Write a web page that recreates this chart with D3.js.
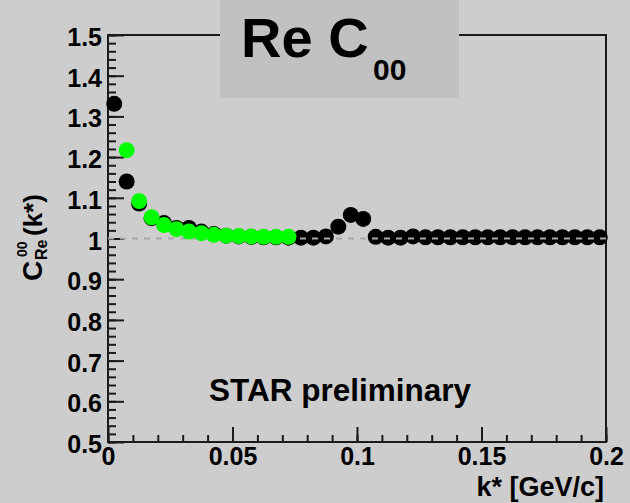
<!DOCTYPE html>
<html>
<head>
<meta charset="utf-8">
<script src="https://cdn.jsdelivr.net/npm/d3@7"></script>
<style>
  html, body { margin: 0; padding: 0; background: #cdcdcd; }
  svg { display: block; }
  text { font-family: "Liberation Sans", Arial, Helvetica, sans-serif; font-weight: bold; fill: #000; }
</style>
</head>
<body>
<svg id="chart" width="630" height="503"></svg>
<script>
// k* bin centres (GeV/c) and C00 values, black series
const kBlack = [0.0025, 0.0075, 0.0125, 0.0175, 0.0225, 0.0275, 0.0325, 0.0375, 0.0425, 0.0475,
                0.0525, 0.0575, 0.0625, 0.0675, 0.0725, 0.0775, 0.0825, 0.0875, 0.0925, 0.0975,
                0.1025, 0.1075, 0.1125, 0.1175, 0.1225, 0.1275, 0.1325, 0.1375, 0.1425, 0.1475,
                0.1525, 0.1575, 0.1625, 0.1675, 0.1725, 0.1775, 0.1825, 0.1875, 0.1925, 0.1975];
const cBlack = [1.331, 1.140, 1.086, 1.050, 1.038, 1.026, 1.026, 1.017, 1.011, 1.007,
                1.005, 1.004, 1.003, 1.003, 1.002, 1.002, 1.002, 1.005, 1.029, 1.058,
                1.048, 1.004, 1.002, 1.002, 1.005, 1.003, 1.003, 1.003, 1.003, 1.003,
                1.003, 1.003, 1.003, 1.003, 1.003, 1.003, 1.003, 1.003, 1.003, 1.003];

// green series
const kGreen = [0.0075, 0.0125, 0.0175, 0.0225, 0.0275, 0.0325, 0.0375, 0.0425, 0.0475, 0.0525,
                0.0575, 0.0625, 0.0675, 0.0725];
const cGreen = [1.217, 1.092, 1.052, 1.033, 1.023, 1.017, 1.013, 1.009, 1.007, 1.006,
                1.005, 1.004, 1.004, 1.004];

// axis ticks
const xMajorTicks = [0, 0.05, 0.1, 0.15, 0.2];
const xTickLabels = ["0", "0.05", "0.1", "0.15", "0.2"];
const yMajorTicks = [0.5, 0.6, 0.7, 0.8, 0.9, 1.0, 1.1, 1.2, 1.3, 1.4, 1.5];
const yTickLabels = ["0.5", "0.6", "0.7", "0.8", "0.9", "1", "1.1", "1.2", "1.3", "1.4", "1.5"];

const svg = d3.select("#chart");
const W = 630, H = 503;
const plot = { left: 108, right: 606, top: 35, bottom: 442 };

svg.append("rect").attr("width", W).attr("height", H).attr("fill", "#cdcdcd");

const x = d3.scaleLinear().domain([0, 0.2]).range([plot.left, plot.right]);
const y = d3.scaleLinear().domain([0.5, 1.5]).range([plot.bottom, plot.top]);

const xMinor = d3.range(0, 21).map(i => i * 0.01);
const yMinor = d3.range(0, 51).map(i => 0.5 + i * 0.02);

// frame
svg.append("rect")
  .attr("x", plot.left).attr("y", plot.top)
  .attr("width", plot.right - plot.left).attr("height", plot.bottom - plot.top)
  .attr("fill", "none").attr("stroke", "#1a1a1a").attr("stroke-width", 2);

// minor ticks
svg.append("g").attr("transform", `translate(0,${plot.bottom})`)
  .call(d3.axisBottom(x).tickValues(xMinor).tickSize(-7).tickFormat(""))
  .call(g => g.select(".domain").remove())
  .selectAll("line").attr("stroke", "#1a1a1a").attr("stroke-width", 2);
svg.append("g").attr("transform", `translate(${plot.left},0)`)
  .call(d3.axisLeft(y).tickValues(yMinor).tickSize(-8).tickFormat(""))
  .call(g => g.select(".domain").remove())
  .selectAll("line").attr("stroke", "#1a1a1a").attr("stroke-width", 2);

// major ticks with labels
const xAxis = svg.append("g").attr("transform", `translate(0,${plot.bottom})`)
  .call(d3.axisBottom(x).tickValues(xMajorTicks).tickSize(-15).tickPadding(5)
        .tickFormat((d, i) => xTickLabels[i]));
xAxis.select(".domain").remove();
xAxis.selectAll("line").attr("stroke", "#1a1a1a").attr("stroke-width", 2);
xAxis.selectAll("text").attr("font-size", 25).attr("fill", "#111")
  .style("font-family", '"Liberation Sans", Arial, sans-serif').style("font-weight", "bold");

const yAxis = svg.append("g").attr("transform", `translate(${plot.left},0)`)
  .call(d3.axisLeft(y).tickValues(yMajorTicks).tickSize(-16).tickPadding(6)
        .tickFormat((d, i) => yTickLabels[i]));
yAxis.select(".domain").remove();
yAxis.selectAll("line").attr("stroke", "#1a1a1a").attr("stroke-width", 2);
yAxis.selectAll("text").attr("font-size", 25).attr("fill", "#111").attr("dy", "0.42em")
  .style("font-family", '"Liberation Sans", Arial, sans-serif').style("font-weight", "bold");

// black series
const black = kBlack.map((k, i) => ({ k, c: cBlack[i] }));
const green = kGreen.map((k, i) => ({ k, c: cGreen[i] }));

svg.append("g").selectAll("circle").data(black).join("circle")
  .attr("cx", d => x(d.k)).attr("cy", d => y(d.c)).attr("r", 8)
  .attr("fill", "#000");

// reference line at C = 1
svg.append("line")
  .attr("x1", x(0)).attr("x2", x(0.2)).attr("y1", y(1)).attr("y2", y(1))
  .attr("stroke", "#a8a8a8").attr("stroke-width", 2).attr("stroke-dasharray", "6,6");

// green series
svg.append("g").selectAll("circle").data(green).join("circle")
  .attr("cx", d => x(d.k)).attr("cy", d => y(d.c)).attr("r", 8)
  .attr("fill", "#00ff00");

// title box
svg.append("rect").attr("x", 220).attr("y", 0).attr("width", 239).attr("height", 98)
  .attr("fill", "#c1c1c1");
const title = svg.append("text").attr("x", 241).attr("y", 57).attr("font-size", 56);
title.append("tspan").text("Re C");
title.append("tspan").attr("x", 373).attr("y", 80).attr("font-size", 30).text("00");

// y axis title
const yt = svg.append("g").attr("transform", "translate(42,281) rotate(-90)");
yt.append("text").attr("x", 0).attr("y", 0).attr("font-size", 28).text("C");
yt.append("text").attr("x", 24).attr("y", -15).attr("font-size", 14).text("00");
yt.append("text").attr("x", 21).attr("y", 5).attr("font-size", 16).text("Re");
yt.append("text").attr("x", 45).attr("y", 0).attr("font-size", 26).text("(k*)");

// x axis title
svg.append("text").attr("x", 604).attr("y", 496).attr("text-anchor", "end")
  .attr("font-size", 27).text("k* [GeV/c]");

// annotation
svg.append("text").attr("x", 209).attr("y", 401).attr("font-size", 31.5).text("STAR preliminary");
</script>
</body>
</html>
